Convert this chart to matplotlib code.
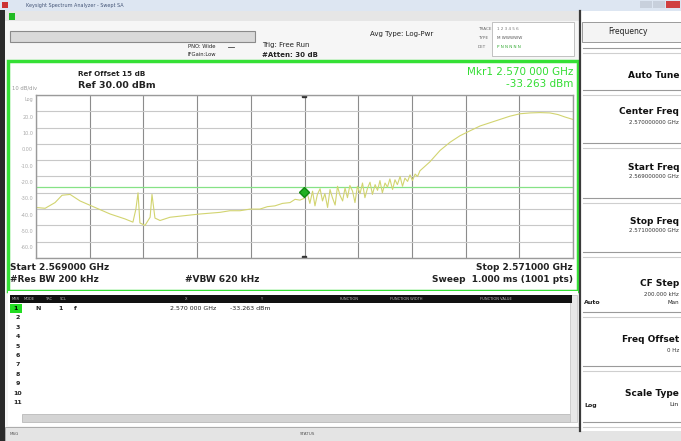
import matplotlib.pyplot as plt
from matplotlib.patches import Rectangle

# screen size in pixels
W, H = 681, 441

# analyzer settings
start_ghz = 2.569
stop_ghz = 2.571
ref_level = 30.0
db_per_div = 10
display_line = -26.5

# marker 1
mkr_ghz = 2.570
mkr_dbm = -33.263

# trace: offset from start (MHz) and level (dBm)
trace_mhz = [0.000, 0.034, 0.071, 0.097, 0.127, 0.164, 0.220, 0.276, 0.331, 0.361,
             0.372, 0.380, 0.387, 0.406, 0.425, 0.432, 0.443, 0.462, 0.499, 0.555,
             0.611, 0.648, 0.685, 0.722, 0.760, 0.797, 0.834, 0.862, 0.890, 0.918,
             0.946, 0.965, 0.983, 1.000, 1.010, 1.020, 1.030, 1.039, 1.048, 1.058,
             1.067, 1.076, 1.086, 1.095, 1.104, 1.114, 1.123, 1.132, 1.142, 1.151,
             1.160, 1.169, 1.179, 1.188, 1.197, 1.207, 1.216, 1.225, 1.235, 1.244,
             1.253, 1.263, 1.272, 1.281, 1.290, 1.300, 1.309, 1.318, 1.328, 1.337,
             1.346, 1.356, 1.365, 1.374, 1.384, 1.393, 1.402, 1.412, 1.421, 1.430,
             1.467, 1.505, 1.542, 1.579, 1.616, 1.654, 1.691, 1.728, 1.765, 1.803,
             1.840, 1.877, 1.914, 1.944, 1.970, 2.000]
trace_dbm = [-39.0, -39.5, -36.0, -31.5, -31.0, -35.0, -39.0, -43.0, -46.0, -48.0,
             -40.0, -30.0, -48.5, -50.0, -45.0, -31.0, -45.5, -47.0, -45.0, -44.0,
             -43.0, -42.5, -42.0, -41.0, -41.0, -40.0, -40.0, -38.5, -38.0, -36.5,
             -36.0, -34.0, -34.5, -33.3, -30.0, -36.5, -29.0, -38.0, -31.0, -27.5,
             -35.0, -30.5, -39.0, -28.0, -33.0, -37.5, -26.0, -31.5, -35.0, -27.0,
             -33.0, -25.5, -29.0, -36.0, -26.0, -30.5, -24.0, -33.0, -27.0, -23.5,
             -31.0, -25.0, -28.5, -22.5, -30.0, -24.0, -26.5, -21.5, -28.0, -22.0,
             -25.0, -20.0, -26.0, -21.0, -23.0, -19.0, -22.5, -18.5, -20.0, -16.5,
             -11.0, -4.0, 1.0, 5.0, 8.0, 11.0, 13.0, 15.0, 17.0, 18.5,
             19.0, 19.2, 19.0, 18.0, 16.5, 15.0]

y_labels = ['Log', '20.0', '10.0', '0.00', '-10.0', '-20.0', '-30.0', '-40.0', '-50.0', '-60.0']

softkeys = [('Auto Tune', '', 75, 90),
            ('Center Freq', '2.570000000 GHz', 112, 143),
            ('Start Freq', '2.569000000 GHz', 167, 198),
            ('Stop Freq', '2.571000000 GHz', 221, 252),
            ('CF Step', '200.000 kHz', 284, 312),
            ('Freq Offset', '0 Hz', 340, 366),
            ('Scale Type', '', 394, 422)]

fig = plt.figure(figsize=(W / 100, H / 100), dpi=100)
bg = fig.add_axes([0, 0, 1, 1])
bg.set_xlim(0, W)
bg.set_ylim(H, 0)
bg.axis('off')


def box(x, y, w, h, fc, ec='none', lw=0.8, z=1):
    bg.add_patch(Rectangle((x, y), w, h, facecolor=fc, edgecolor=ec, linewidth=lw, zorder=z))


def txt(x, y, s, size=5, color='#222222', ha='left', weight='normal'):
    bg.text(x, y, s, fontsize=size, color=color, ha=ha, va='center', weight=weight,
            family='DejaVu Sans', zorder=5)


# window chrome
box(0, 0, W, H, '#f6f6f6')
box(0, 0, W, 11, '#dde6f2')
txt(26, 5, 'Keysight Spectrum Analyzer - Swept SA', 3.5, '#445577')
box(2, 2, 6, 6, '#cc3333')
box(640, 1, 12, 7, '#c8d0dc')
box(653, 1, 12, 7, '#c8d0dc')
box(666, 1, 14, 7, '#d04040')
box(0, 11, 579, 10, '#e6e6e6')
box(9, 13, 6, 7, '#22bb22')
box(0, 10, 5, H - 10, '#2a2a2a', z=2)

# settings bar
box(10, 31, 245, 11, '#d9d9d9', '#8a8a8a', 0.8)
txt(188, 47, 'PNO: Wide', 3.8)
txt(188, 55, 'IFGain:Low', 3.8)
bg.plot([228, 234], [47, 47], color='#444444', lw=0.6, zorder=4)
txt(262, 45, 'Trig: Free Run', 5)
txt(262, 55, '#Atten: 30 dB', 5, weight='bold')
txt(370, 34, 'Avg Type: Log-Pwr', 5)
box(492, 22, 82, 34, '#ffffff', '#aaaaaa', 0.5)
txt(478, 29, 'TRACE', 3, '#666666')
txt(478, 38, 'TYPE', 3, '#666666')
txt(478, 47, 'DET', 3, '#666666')
txt(497, 29, '1 2 3 4 5 6', 3, '#777777')
txt(497, 38, 'M WWWWW', 3, '#555555')
txt(497, 47, 'P N N N N N', 3, '#33aa33')

# measurement display with green frame
box(8, 61, 570, 230, '#ffffff', '#35e035', 2.5, z=1)
txt(78, 74, 'Ref Offset 15 dB', 5.2, weight='bold')
txt(78, 86, 'Ref 30.00 dBm', 6.8, weight='bold')
txt(12, 88, '10 dB/div', 3.8, '#999999')
txt(573, 72, 'Mkr1 2.570 000 GHz', 7.5, '#33dd33', ha='right')
txt(573, 84, '-33.263 dBm', 7.5, '#33dd33', ha='right')
txt(10, 268, 'Start 2.569000 GHz', 6.5, weight='bold')
txt(10, 280, '#Res BW 200 kHz', 6.5, weight='bold')
txt(185, 280, '#VBW 620 kHz', 6.5, weight='bold')
txt(573, 268, 'Stop 2.571000 GHz', 6.5, ha='right', weight='bold')
txt(573, 280, 'Sweep  1.000 ms (1001 pts)', 6.5, ha='right', weight='bold')

# marker table
box(8, 291, 570, 135, '#ffffff')
box(10, 295, 562, 8, '#111111', z=2)
for hx, hs in [(12, 'MKR'), (24, 'MODE'), (45, 'TRC'), (60, 'SCL'), (185, 'X'), (260, 'Y'),
               (340, 'FUNCTION'), (390, 'FUNCTION WIDTH'), (480, 'FUNCTION VALUE')]:
    txt(hx, 299, hs, 2.6, '#bbbbbb')
box(10, 304, 12, 9, '#22dd22', z=2)
txt(16, 308.5, '1', 4.5, '#000000', ha='center', weight='bold')
txt(35, 308.5, 'N', 4.5, weight='bold')
txt(58, 308.5, '1', 4.5, weight='bold')
txt(74, 308.5, 'f', 4.5, weight='bold')
txt(170, 308.5, '2.570 000 GHz', 4.5)
txt(230, 308.5, '-33.263 dBm', 4.5)
for i in range(2, 12):
    txt(18, 308.5 + (i - 1) * 9.4, str(i), 4.5, ha='center', weight='bold')
box(22, 414, 548, 8, '#d4d4d4', '#b0b0b0', 0.5)
box(570, 295, 7, 127, '#e8e8e8', '#c0c0c0', 0.5)

# status bar
box(5, 427, 574, 14, '#e4e4e4', '#a0a0a0', 0.6)
txt(10, 434, 'MSG', 3, '#555555')
txt(300, 434, 'STATUS', 3, '#555555')

# softkey panel
box(579, 11, 102, 420, '#ffffff')
bg.plot([580, 580], [11, 431], color='#3a3a3a', lw=1.6, zorder=3)
box(582, 22, 99, 20, '#f4f4f4', '#8c8c8c', 0.6)
txt(628, 32, 'Frequency', 5.5, ha='center')
sep_y = [48] + [k[3] for k in softkeys]
for sy in sep_y:
    bg.plot([583, 681], [sy, sy], color='#9a9a9a', lw=0.8, zorder=3)
    bg.plot([583, 681], [sy + 5, sy + 5], color='#cfcfcf', lw=0.8, zorder=3)
for name, val, ky, _ in softkeys:
    txt(679, ky, name, 6.5, '#111111', ha='right', weight='bold')
    if val:
        txt(679, ky + 10, val, 4, '#333333', ha='right')
txt(584, 303, 'Auto', 4.5, weight='bold')
txt(679, 303, 'Man', 4, ha='right')
txt(584, 405, 'Log', 4.5, weight='bold')
txt(679, 405, 'Lin', 4.5, ha='right')
box(579, 431, 102, 10, '#e4e4e4')

# graticule and trace
x0, y0, x1, y1 = 36, 95, 573, 258
ax = fig.add_axes([x0 / W, 1 - y1 / H, (x1 - x0) / W, (y1 - y0) / H])
ax.set_zorder(4)
lo = ref_level - 10 * db_per_div
ax.set_xlim(0, 2.0)
ax.set_ylim(lo, ref_level)
ax.set_xticks([i * 0.2 for i in range(11)])
ax.set_yticks([ref_level - i * db_per_div for i in range(11)])
ax.grid(True, axis='x', color='#8c8c8c', lw=0.8)
ax.grid(True, axis='y', color='#c8c8c8', lw=0.8)
ax.tick_params(length=0, labelbottom=False, labelleft=False)
for sp in ax.spines.values():
    sp.set_color('#9a9a9a')
    sp.set_linewidth(1.0)

ax.axhline(display_line, color='#86e286', lw=0.9)
ax.plot(trace_mhz, trace_dbm, color='#d2d470', lw=0.8)
mx = (mkr_ghz - start_ghz) * 1000
ax.plot(mx, mkr_dbm + 3.5, marker='D', ms=5.5, color='#22b022', mec='#118811')
ax.plot([mx, mx], [ref_level, lo], color='#333333', lw=0, marker='s', ms=2.5)

for i, lab in enumerate(y_labels):
    yy = y0 + 4 + i * (y1 - y0) / 10 + (2 if i else 0)
    txt(x0 - 3, yy, lab, 3.5, '#aaaaaa', ha='right')

fig.savefig('out.png', dpi=100)
